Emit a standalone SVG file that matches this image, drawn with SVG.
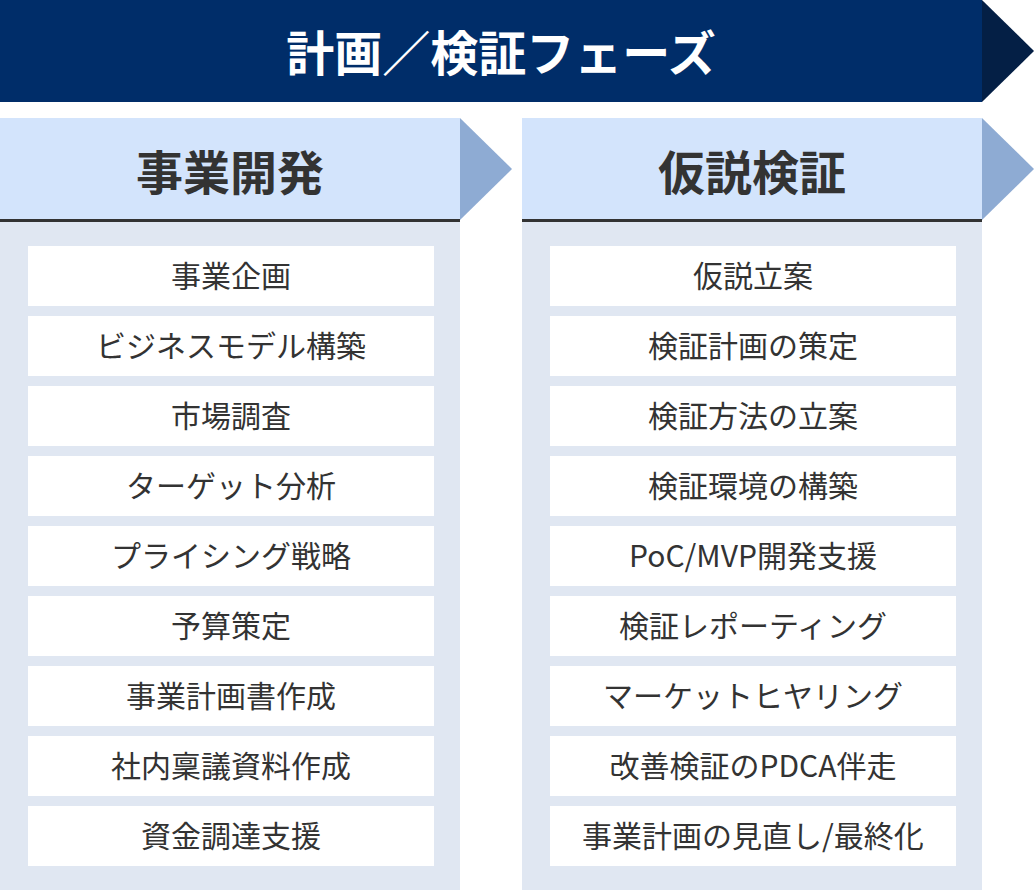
<svg xmlns="http://www.w3.org/2000/svg" width="1034" height="890" viewBox="0 0 1034 890">
<defs>
<style>
.banner{fill:#002d69}
.tip{fill:#041f45}
.head{fill:#d3e4fc}
.harrow{fill:#8eabd3}
.panel{fill:#e0e7f2}
.rule{fill:#333333}
.item{fill:#ffffff}
.t-title{font-family:"Noto Sans CJK JP","Noto Sans",sans-serif;font-weight:700;font-size:48px;fill:#ffffff;text-anchor:middle}
.t-head{font-family:"Noto Sans CJK JP","Noto Sans",sans-serif;font-weight:700;font-size:47px;fill:#333333;text-anchor:middle}
.t-item{font-family:"Noto Sans CJK JP","Noto Sans",sans-serif;font-weight:400;font-size:30px;fill:#333333;text-anchor:middle}
</style>
</defs>
<rect width="1034" height="890" fill="#ffffff"/>
<g id="banner">
<rect class="banner" x="0" y="0" width="982" height="102"/>
<polygon class="tip" points="982,0 1034,51 982,102"/>
<text class="t-title" x="501" y="71">計画／検証フェーズ</text>
</g>
<g id="col-business">
<rect class="head" x="0" y="118" width="460" height="102"/>
<polygon class="harrow" points="460,118 512,169 460,220"/>
<rect class="rule" x="0" y="219" width="460" height="3"/>
<rect class="panel" x="0" y="222" width="460" height="668"/>
<text class="t-head" x="230" y="190">事業開発</text>
</g>
<g id="col-hypothesis">
<rect class="head" x="522" y="118" width="460" height="102"/>
<polygon class="harrow" points="982,118 1034,169 982,220"/>
<rect class="rule" x="522" y="219" width="460" height="3"/>
<rect class="panel" x="522" y="222" width="460" height="668"/>
<text class="t-head" x="752" y="190">仮説検証</text>
</g>
<g id="items-left">
<g id="l1"><rect class="item" x="28" y="246" width="406" height="60"/><text class="t-item" x="231" y="287">事業企画</text></g>
<g id="l2"><rect class="item" x="28" y="316" width="406" height="60"/><text class="t-item" x="231" y="357">ビジネスモデル構築</text></g>
<g id="l3"><rect class="item" x="28" y="386" width="406" height="60"/><text class="t-item" x="231" y="427">市場調査</text></g>
<g id="l4"><rect class="item" x="28" y="456" width="406" height="60"/><text class="t-item" x="231" y="497">ターゲット分析</text></g>
<g id="l5"><rect class="item" x="28" y="526" width="406" height="60"/><text class="t-item" x="231" y="567">プライシング戦略</text></g>
<g id="l6"><rect class="item" x="28" y="596" width="406" height="60"/><text class="t-item" x="231" y="637">予算策定</text></g>
<g id="l7"><rect class="item" x="28" y="666" width="406" height="60"/><text class="t-item" x="231" y="707">事業計画書作成</text></g>
<g id="l8"><rect class="item" x="28" y="736" width="406" height="60"/><text class="t-item" x="231" y="777">社内稟議資料作成</text></g>
<g id="l9"><rect class="item" x="28" y="806" width="406" height="60"/><text class="t-item" x="231" y="847">資金調達支援</text></g>
</g>
<g id="items-right">
<g id="r1"><rect class="item" x="550" y="246" width="406" height="60"/><text class="t-item" x="753" y="287">仮説立案</text></g>
<g id="r2"><rect class="item" x="550" y="316" width="406" height="60"/><text class="t-item" x="753" y="357">検証計画の策定</text></g>
<g id="r3"><rect class="item" x="550" y="386" width="406" height="60"/><text class="t-item" x="753" y="427">検証方法の立案</text></g>
<g id="r4"><rect class="item" x="550" y="456" width="406" height="60"/><text class="t-item" x="753" y="497">検証環境の構築</text></g>
<g id="r5"><rect class="item" x="550" y="526" width="406" height="60"/><text class="t-item" x="753" y="567">PoC/MVP開発支援</text></g>
<g id="r6"><rect class="item" x="550" y="596" width="406" height="60"/><text class="t-item" x="753" y="637">検証レポーティング</text></g>
<g id="r7"><rect class="item" x="550" y="666" width="406" height="60"/><text class="t-item" x="753" y="707">マーケットヒヤリング</text></g>
<g id="r8"><rect class="item" x="550" y="736" width="406" height="60"/><text class="t-item" x="753" y="777">改善検証のPDCA伴走</text></g>
<g id="r9"><rect class="item" x="550" y="806" width="406" height="60"/><text class="t-item" x="753" y="847">事業計画の見直し/最終化</text></g>
</g>
<g id="connectors"></g>
</svg>
